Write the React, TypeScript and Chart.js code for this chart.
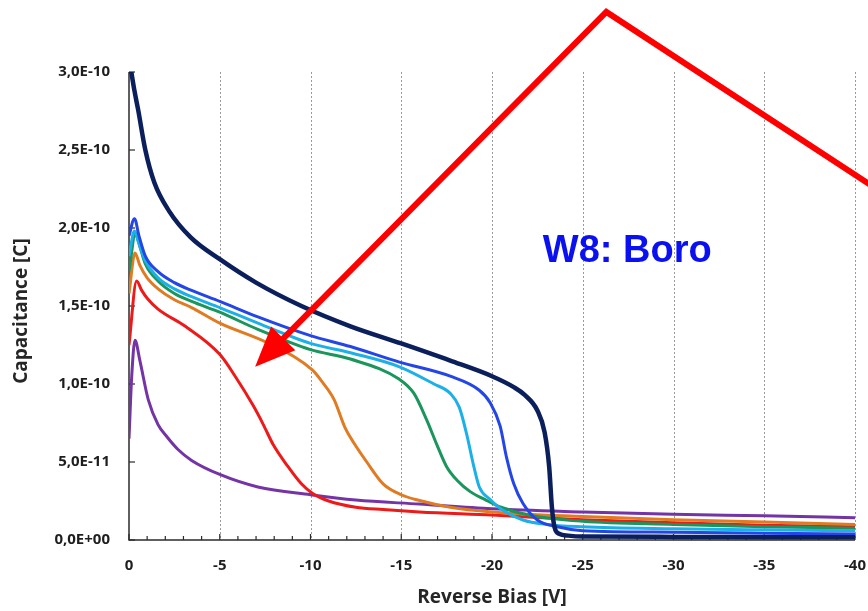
import React, { useEffect, useRef } from "react";
import { Chart, registerables } from "chart.js";

Chart.register(...registerables);

// Reverse bias sweep (V) and capacitance (units of 1e-10 F) for each sample curve
const navyBias = [-0.1, -0.3, -0.5, -0.9, -1.4, -2.2, -3.4, -5, -7, -9.5, -12.2, -15, -17.7, -20, -21.2, -21.8, -22.5, -22.9, -23.15, -23.3, -23.45, -23.7, -24.2, -25, -30, -35, -40];
const navyCap = [3.02, 2.88, 2.76, 2.5, 2.29, 2.11, 1.94, 1.8, 1.65, 1.5, 1.37, 1.26, 1.15, 1.05, 0.98, 0.93, 0.83, 0.69, 0.47, 0.21, 0.08, 0.04, 0.028, 0.022, 0.02, 0.018, 0.017];

const blueBias = [0, -0.3, -0.55, -0.9, -1.6, -2.5, -3.45, -5, -7.1, -10, -12.2, -14.9, -17.7, -19.3, -19.9, -20.45, -20.8, -21.2, -21.7, -22.5, -23.6, -25, -30, -35, -40];
const blueCap = [1.95, 2.06, 1.95, 1.82, 1.72, 1.65, 1.6, 1.53, 1.43, 1.31, 1.24, 1.14, 1.05, 0.96, 0.88, 0.73, 0.53, 0.36, 0.235, 0.128, 0.085, 0.06, 0.05, 0.043, 0.038];

const cyanBias = [0, -0.3, -0.55, -0.9, -1.6, -2.5, -3.45, -5, -7.1, -10, -12.2, -14.9, -16.8, -17.7, -18.2, -18.6, -19.0, -19.3, -19.9, -20.6, -21.7, -23, -25, -30, -35, -40];
const cyanCap = [1.82, 1.98, 1.9, 1.79, 1.68, 1.61, 1.56, 1.49, 1.39, 1.26, 1.2, 1.11, 1.0, 0.94, 0.85, 0.68, 0.47, 0.34, 0.26, 0.19, 0.128, 0.1, 0.085, 0.072, 0.065, 0.06];

const greenBias = [0, -0.35, -0.6, -0.9, -1.6, -2.5, -3.45, -5, -7.1, -10, -12.2, -14.9, -15.7, -16.4, -17.0, -17.5, -18.1, -18.8, -19.6, -20.5, -22, -25, -30, -35, -40];
const greenCap = [1.72, 1.96, 1.88, 1.77, 1.66, 1.58, 1.53, 1.46, 1.35, 1.22, 1.16, 1.03, 0.94, 0.77, 0.6, 0.47, 0.38, 0.31, 0.26, 0.21, 0.16, 0.12, 0.1, 0.085, 0.075];

const orangeBias = [0, -0.33, -0.6, -1.0, -1.6, -2.5, -3.45, -5, -7.7, -10.1, -10.6, -11.3, -11.9, -12.4, -13.1, -14.0, -15.0, -15.9, -17.7, -20, -25, -30, -35, -40];
const orangeCap = [1.58, 1.84, 1.76, 1.68, 1.61, 1.54, 1.49, 1.39, 1.26, 1.09, 1.02, 0.9, 0.72, 0.62, 0.5, 0.36, 0.29, 0.256, 0.21, 0.18, 0.15, 0.13, 0.115, 0.1];

const redBias = [0, -0.42, -0.7, -1.0, -1.6, -3.1, -5.0, -5.9, -6.85, -7.4, -7.95, -8.7, -9.5, -10.1, -11.0, -12.5, -14, -16, -20, -25, -30, -35, -40];
const redCap = [1.25, 1.66, 1.6, 1.55, 1.48, 1.37, 1.19, 1.04, 0.86, 0.74, 0.61, 0.48, 0.36, 0.3, 0.25, 0.21, 0.195, 0.18, 0.16, 0.13, 0.11, 0.095, 0.085];

const purpleBias = [0, -0.15, -0.33, -0.6, -1.06, -1.6, -2.1, -2.7, -3.45, -5, -7.1, -10, -12.5, -16, -20, -25, -30, -35, -40];
const purpleCap = [0.65, 1.05, 1.28, 1.15, 0.9, 0.74, 0.66, 0.58, 0.51, 0.42, 0.34, 0.29, 0.256, 0.23, 0.2, 0.18, 0.165, 0.155, 0.143];

// Axis ticks
const xTickValues = [0, -5, -10, -15, -20, -25, -30, -35, -40];
const xTickLabels = ["0", "-5", "-10", "-15", "-20", "-25", "-30", "-35", "-40"];
const yTickValues = [0, 0.5, 1.0, 1.5, 2.0, 2.5, 3.0];
const yTickLabels = ["0,0E+00", "5,0E-11", "1,0E-10", "1,5E-10", "2,0E-10", "2,5E-10", "3,0E-10"];

// Annotation: bent arrow (bias V, capacitance) and series label
const arrowPath = [
  { x: -40.8, y: 2.28 },
  { x: -26.3, y: 3.385 },
  { x: -6.95, y: 1.11 },
];
const noteText = "W8: Boro";
const notePos = { x: -22.8, y: 1.78 };

const toPoints = (xs: number[], ys: number[]) => xs.map((x, i) => ({ x, y: ys[i] }));

const TICK_FONT = { family: "'Open Sans'", size: 15, weight: "bold" as const };

const axesPlugin = {
  id: "axesDecor",
  beforeDatasetsDraw(chart: any) {
    const { ctx, chartArea, scales } = chart;
    const xs = scales.x;
    const ys = scales.y;
    ctx.save();
    // dotted vertical grid
    ctx.strokeStyle = "#9a9a9a";
    ctx.lineWidth = 1;
    ctx.setLineDash([2, 2]);
    xTickValues.forEach((v) => {
      if (v === 0) return;
      const px = Math.round(xs.getPixelForValue(v)) + 0.5;
      ctx.beginPath();
      ctx.moveTo(px, chartArea.top);
      ctx.lineTo(px, chartArea.bottom);
      ctx.stroke();
    });
    ctx.setLineDash([]);
    // axis lines
    ctx.strokeStyle = "#2b2b2b";
    ctx.lineWidth = 1.5;
    ctx.beginPath();
    ctx.moveTo(chartArea.left, chartArea.top);
    ctx.lineTo(chartArea.left, chartArea.bottom);
    ctx.lineTo(chartArea.right, chartArea.bottom);
    ctx.stroke();
    // inward ticks
    ctx.lineWidth = 1.2;
    yTickValues.forEach((v) => {
      const py = ys.getPixelForValue(v);
      ctx.beginPath();
      ctx.moveTo(chartArea.left, py);
      ctx.lineTo(chartArea.left + 6, py);
      ctx.stroke();
    });
    for (let v = 0; v >= -40; v -= 1) {
      const px = xs.getPixelForValue(v);
      const len = v % 5 === 0 ? 6 : 4;
      ctx.beginPath();
      ctx.moveTo(px, chartArea.bottom);
      ctx.lineTo(px, chartArea.bottom - len);
      ctx.stroke();
    }
    ctx.restore();
  },
  afterDraw(chart: any) {
    const { ctx, chartArea, scales } = chart;
    const xs = scales.x;
    const ys = scales.y;
    ctx.save();
    // axis titles
    ctx.fillStyle = "#262626";
    ctx.font = "bold 19px 'Open Sans'";
    ctx.textAlign = "center";
    ctx.textBaseline = "middle";
    ctx.fillText("Reverse Bias [V]", (chartArea.left + chartArea.right) / 2, 598);
    ctx.save();
    ctx.translate(22, (chartArea.top + chartArea.bottom) / 2 + 5);
    ctx.rotate(-Math.PI / 2);
    ctx.fillText("Capacitance [C]", 0, 0);
    ctx.restore();

    // label
    ctx.fillStyle = "#0a10f0";
    ctx.font = "bold 38px 'Liberation Sans', Arial, sans-serif";
    ctx.textAlign = "left";
    ctx.textBaseline = "alphabetic";
    ctx.fillText(noteText, xs.getPixelForValue(notePos.x), ys.getPixelForValue(notePos.y));

    // bent arrow
    const pts = arrowPath.map((p) => ({ x: xs.getPixelForValue(p.x), y: ys.getPixelForValue(p.y) }));
    const tip = pts[pts.length - 1];
    const prev = pts[pts.length - 2];
    const ang = Math.atan2(tip.y - prev.y, tip.x - prev.x);
    const headLen = 40;
    const headHalf = 17;
    const baseX = tip.x - headLen * Math.cos(ang);
    const baseY = tip.y - headLen * Math.sin(ang);
    ctx.strokeStyle = "#ff0000";
    ctx.fillStyle = "#ff0000";
    ctx.lineWidth = 6;
    ctx.lineJoin = "miter";
    ctx.beginPath();
    ctx.moveTo(pts[0].x, pts[0].y);
    for (let i = 1; i < pts.length - 1; i++) ctx.lineTo(pts[i].x, pts[i].y);
    ctx.lineTo(baseX + 2 * Math.cos(ang), baseY + 2 * Math.sin(ang));
    ctx.stroke();
    ctx.beginPath();
    ctx.moveTo(tip.x, tip.y);
    ctx.lineTo(baseX + headHalf * Math.sin(ang), baseY - headHalf * Math.cos(ang));
    ctx.lineTo(baseX - headHalf * Math.sin(ang), baseY + headHalf * Math.cos(ang));
    ctx.closePath();
    ctx.fill();
    ctx.restore();
  },
};

export default function App() {
  const canvasRef = useRef<HTMLCanvasElement | null>(null);

  useEffect(() => {
    document.body.style.margin = "0";
    const canvas = canvasRef.current;
    if (!canvas) return;

    const series = [
      { label: "S7", xs: navyBias, ys: navyCap, color: "#0b1f5c", width: 4.5 },
      { label: "S6", xs: blueBias, ys: blueCap, color: "#2446e6", width: 3 },
      { label: "S5", xs: cyanBias, ys: cyanCap, color: "#1cb0e8", width: 3 },
      { label: "S4", xs: greenBias, ys: greenCap, color: "#1a955c", width: 3 },
      { label: "S3", xs: orangeBias, ys: orangeCap, color: "#e07b22", width: 3 },
      { label: "S2", xs: redBias, ys: redCap, color: "#ee1a1a", width: 3 },
      { label: "S1", xs: purpleBias, ys: purpleCap, color: "#7434a6", width: 3 },
    ];

    const chart = new Chart(canvas, {
      type: "line",
      data: {
        datasets: series.map((s) => ({
          label: s.label,
          data: toPoints(s.xs, s.ys),
          borderColor: s.color,
          backgroundColor: s.color,
          borderWidth: s.width,
          pointRadius: 0,
          fill: false,
          cubicInterpolationMode: "monotone" as const,
        })),
      },
      options: {
        responsive: false,
        animation: false,
        events: [],
        layout: { padding: { top: 72, right: 13, left: 0, bottom: 0 } },
        plugins: { legend: { display: false }, tooltip: { enabled: false } },
        scales: {
          x: {
            type: "linear",
            min: -40,
            max: 0,
            reverse: true,
            grid: { display: false, drawTicks: false },
            border: { display: false },
            afterBuildTicks: (scale: any) => {
              scale.ticks = xTickValues.map((v) => ({ value: v }));
            },
            afterFit: (scale: any) => {
              scale.height = 71;
              scale.paddingLeft = 0;
              scale.paddingRight = 0;
            },
            ticks: {
              color: "#1e1e1e",
              font: TICK_FONT,
              padding: 17,
              maxRotation: 0,
              autoSkip: false,
              callback: (value: any) => {
                const i = xTickValues.indexOf(Number(value));
                return i >= 0 ? xTickLabels[i] : "";
              },
            },
          },
          y: {
            type: "linear",
            min: 0,
            max: 3,
            grid: { display: false, drawTicks: false },
            border: { display: false },
            afterBuildTicks: (scale: any) => {
              scale.ticks = yTickValues.map((v) => ({ value: v }));
            },
            afterFit: (scale: any) => {
              scale.width = 129;
              scale.paddingTop = 0;
              scale.paddingBottom = 0;
            },
            ticks: {
              color: "#1e1e1e",
              font: TICK_FONT,
              padding: 19,
              autoSkip: false,
              callback: (value: any) => {
                const i = yTickValues.findIndex((v) => Math.abs(v - Number(value)) < 1e-6);
                return i >= 0 ? yTickLabels[i] : "";
              },
            },
          },
        },
      },
      plugins: [axesPlugin],
    });

    return () => chart.destroy();
  }, []);

  return (
    <div style={{ width: 868, height: 611, background: "#ffffff" }}>
      <canvas ref={canvasRef} width={868} height={611} style={{ display: "block" }} />
    </div>
  );
}
